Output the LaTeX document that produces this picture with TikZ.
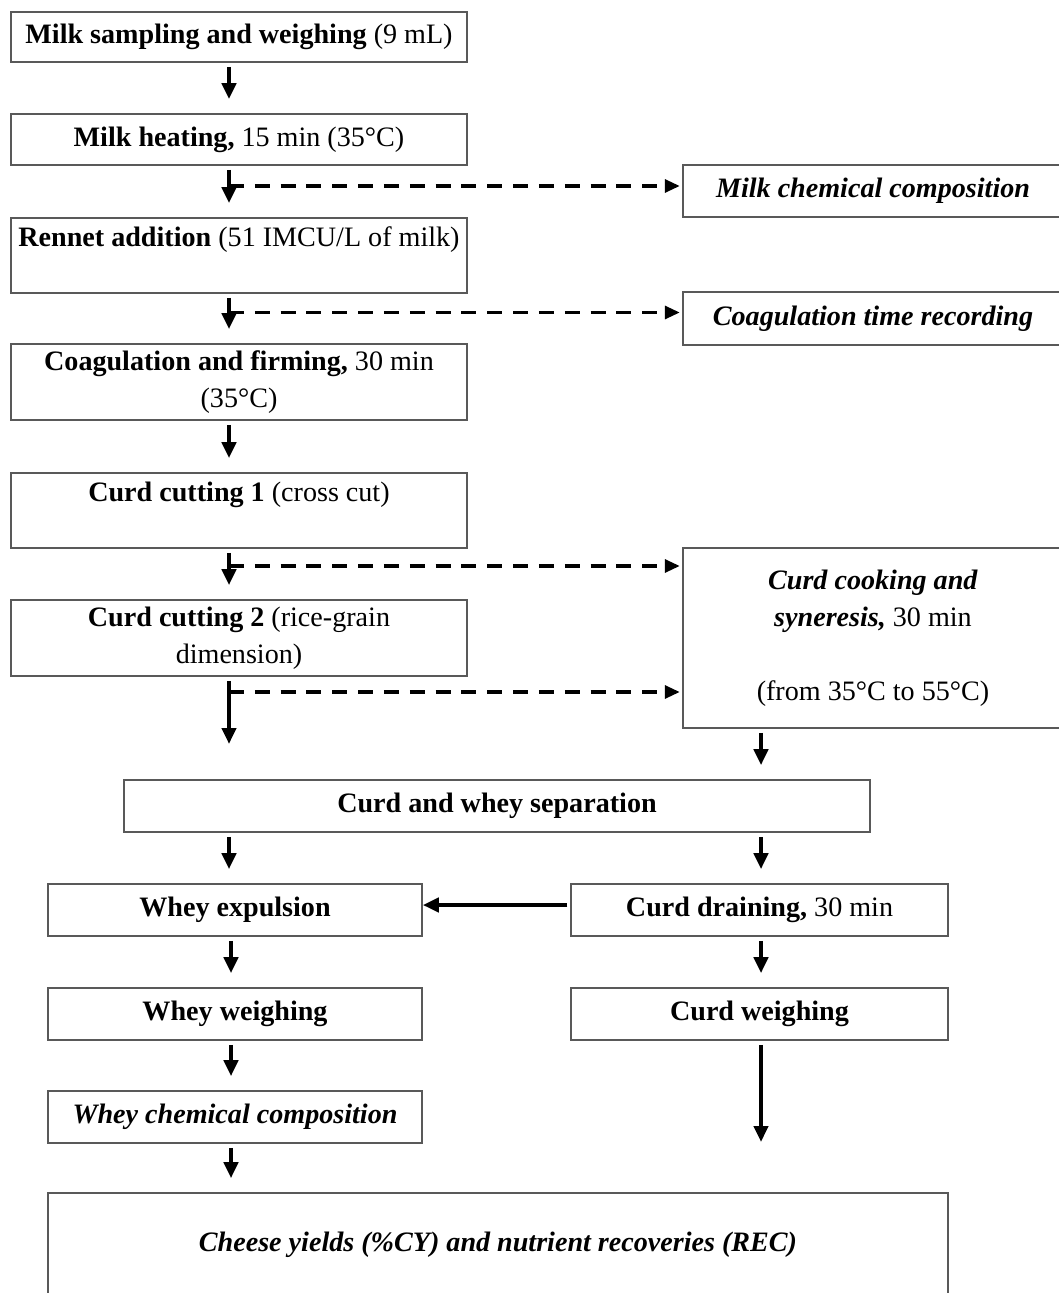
\documentclass[tikz,border=0pt]{standalone}
\usepackage{fontspec}
\setmainfont{Liberation Serif}
\usetikzlibrary{calc,positioning,arrows.meta}

\tikzset{
  stage/.style={draw=black!65, line width=0.9pt, inner sep=0pt, align=center,
    font=\fontsize{16}{21}\selectfont},
  flow/.style={line width=2.3pt, -{Triangle[length=0.32cm,width=0.28cm]},
    shorten <=0.08cm, shorten >=0.28cm},
  feed/.style={line width=1.8pt, dash pattern=on 8.5pt off 6.2pt,
    -{Triangle[length=0.3cm,width=0.26cm]}, shorten >=0.05cm}
}

\begin{document}
\begin{tikzpicture}[x=0.02cm, y=-0.02cm]
\useasboundingbox (0,0) rectangle (1058,1293);
% columns of the arrows
\coordinate (colA) at (229,0);
\coordinate (colB) at (231,0);
\coordinate (colC) at (761,0);
% left column
\node[stage, minimum width=9.12cm, minimum height=1cm] (milk) at (239,37)
  {\textbf{Milk sampling and weighing} (9 mL)};
\node[stage, minimum width=9.12cm, minimum height=1.02cm] (heat) at (239,139.5)
  {\textbf{Milk heating,} 15 min (35°C)};
\node[stage, minimum width=9.12cm, minimum height=1.5cm] (rennet) at (239,255.5)
  {\textbf{Rennet addition} (51 IMCU/L of milk)\\ \mbox{}};
\node[stage, minimum width=9.12cm, minimum height=1.52cm] (coag) at (239,382)
  {\textbf{Coagulation and firming,} 30 min\\(35°C)};
\node[stage, minimum width=9.12cm, minimum height=1.5cm] (cut1) at (239,510.5)
  {\textbf{Curd cutting 1} (cross cut)\\ \mbox{}};
\node[stage, minimum width=9.12cm, minimum height=1.52cm] (cut2) at (239,638)
  {\textbf{Curd cutting 2} (rice-grain\\dimension)};
% right column
\node[stage, minimum width=7.6cm, minimum height=1.04cm] (mcomp) at (873,191)
  {\textbf{\textit{Milk chemical composition}}};
\node[stage, minimum width=7.6cm, minimum height=1.06cm] (ctime) at (873,318.5)
  {\textbf{\textit{Coagulation time recording}}};
\node[stage, minimum width=7.6cm, minimum height=3.6cm] (cook) at (873,638)
  {\textbf{\textit{Curd cooking and}}\\\textbf{\textit{syneresis,}} 30 min\\ \mbox{}\\(from 35°C to 55°C)};
% lower part
\node[stage, minimum width=14.92cm, minimum height=1.04cm] (sep) at (497,806)
  {\textbf{Curd and whey separation}};
\node[stage, minimum width=7.48cm, minimum height=1.04cm] (wexp) at (235,910)
  {\textbf{Whey expulsion}};
\node[stage, minimum width=7.54cm, minimum height=1.04cm] (cdrain) at (759.5,910)
  {\textbf{Curd draining,} 30 min};
\node[stage, minimum width=7.48cm, minimum height=1.04cm] (wweigh) at (235,1014)
  {\textbf{Whey weighing}};
\node[stage, minimum width=7.54cm, minimum height=1.04cm] (cweigh) at (759.5,1014)
  {\textbf{Curd weighing}};
\node[stage, minimum width=7.48cm, minimum height=1.04cm] (wchem) at (235,1117)
  {\textbf{\textit{Whey chemical composition}}};
\node[stage, minimum width=18cm, minimum height=2.08cm] (cheese) at (498,1245)
  {\textbf{\textit{Cheese yields (\%CY) and nutrient recoveries (REC)}}};
% arrows
\draw[flow] (milk.south -| colA) -- (heat.north -| colA);
\draw[flow] (heat.south -| colA) -- (rennet.north -| colA);
\draw[flow] (rennet.south -| colA) -- (coag.north -| colA);
\draw[flow] (coag.south -| colA) -- (cut1.north -| colA);
\draw[flow] (cut1.south -| colA) -- (cut2.north -| colA);
\coordinate (cutEnd) at (229,758);
\draw[flow] (cut2.south -| colA) -- (cutEnd);
\draw[flow] (cook.south -| colC) -- (sep.north -| colC);
\draw[flow] (sep.south -| colA) -- (wexp.north -| colA);
\draw[flow] (sep.south -| colC) -- (cdrain.north -| colC);
\draw[flow, shorten <=0.06cm, shorten >=0pt] ([yshift=0.1cm]cdrain.west) -- ([yshift=0.1cm]cdrain.west -| wexp.east);
\draw[flow] (wexp.south -| colB) -- (wweigh.north -| colB);
\draw[flow] (cdrain.south -| colC) -- (cweigh.north -| colC);
\draw[flow] (wweigh.south -| colB) -- (wchem.north -| colB);
\coordinate (weighEnd) at (761,1156);
\draw[flow] (cweigh.south -| colC) -- (weighEnd);
\draw[flow] (wchem.south -| colB) -- (cheese.north -| colB);
% dashed side arrows
\draw[feed] ([yshift=0.1cm]mcomp.west -| colA) -- ([yshift=0.1cm]mcomp.west);
\draw[feed] ([yshift=0.12cm]ctime.west -| colA) -- ([yshift=0.12cm]ctime.west);
\coordinate (dashA) at (229,566);
\coordinate (dashB) at (229,692);
\draw[feed] (dashA) -- (dashA -| cook.west);
\draw[feed] (dashB) -- (dashB -| cook.west);
\end{tikzpicture}
\end{document}
